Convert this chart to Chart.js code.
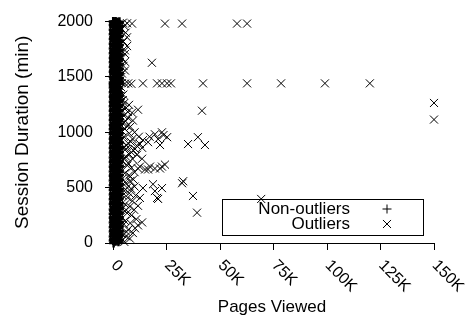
<!DOCTYPE html>
<html><head><meta charset="utf-8">
<script src="https://cdn.jsdelivr.net/npm/chart.js@4/dist/chart.umd.min.js"></script>
<style>html,body{margin:0;padding:0;background:#fff}canvas{display:block}</style>
</head><body>
<canvas id="c" width="474" height="325"></canvas>
<script>
const FONT = '"Liberation Sans", Arial, Helvetica, sans-serif';

const xTickValues = [0, 25000, 50000, 75000, 100000, 125000, 150000];
const xTickLabels = ['0', '25K', '50K', '75K', '100K', '125K', '150K'];
const yTickValues = [0, 500, 1000, 1500, 2000];
const yTickLabels = ['0', '500', '1000', '1500', '2000'];
const seriesNames = ['Non-outliers', 'Outliers'];

// Non-outliers: the dense band near 0 pages viewed (x per column, y values per column)
const bandColumnsX = [0, 200, 650, 1100, 1550, 2000, 2450, 2900];
const bandColumnsY = [
  [22,59,105,142,185,227,265,302,352,395,437,479,522,565,607,645,689,732,772,817,859,902,942,985,1027,1067,1112,1152,1195,1235,1277,1322,1362,1405,1432,1450,1502,1547,1589,1632,1672,1715,1757,1799,1842,1885,1927,1969,2000],
  [0,35,80,118,160,205,240,290,330,372,415,455,500,540,585,620,668,710,750,795,835,878,920,960,1005,1045,1088,1130,1170,1212,1255,1298,1340,1382,1420,1445,1480,1525,1565,1610,1650,1692,1735,1778,1820,1862,1905,1948,1990],
  [20,62,102,145,188,228,270,315,355,398,440,482,525,568,608,650,695,735,778,820,862,905,945,988,1030,1072,1115,1155,1198,1240,1282,1325,1365,1405,1436,1458,1498,1540,1582,1625,1668,1710,1750,1792,1835,1878,1920,1962,1998],
  [15,58,98,140,182,225,265,310,352,395,435,478,520,562,605,645,690,730,772,815,858,900,940,982,1025,1068,1110,1150,1192,1235,1278,1320,1360,1402,1440,1462,1502,1545,1588,1630,1672,1715,1755,1798,1840,1885,1925,1968,2000],
  [30,75,112,155,198,236,282,325,368,410,452,494,535,580,618,662,705,746,790,830,872,915,955,1000,1040,1082,1125,1165,1208,1250,1292,1335,1376,1415,1443,1468,1508,1550,1592,1635,1678,1720,1760,1802,1845,1890,1930,1972,1993],
  [25,70,108,150,195,232,278,320,362,405,448,490,530,575,612,658,700,742,785,825,868,910,950,995,1035,1078,1120,1160,1202,1245,1288,1330,1372,1410,1438,1450,1492,1535,1578,1620,1662,1705,1745,1788,1830,1872,1915,1958,1995],
  [12,52,94,135,176,218,260,302,345,388,430,472,515,556,600,640,682,725,768,810,852,894,935,978,1020,1062,1104,1145,1188,1230,1272,1315,1352,1395,1440,1452,1475,1520,1560,1604,1645,1688,1730,1772,1815,1858,1900,1942,1982],
  [28,68,110,150,192,232,275,318,360,402,445,488,530,572,615,655,698,740,782,825,868,908,950,992,1035,1078,1118,1160,1202,1245,1288,1330,1440,1460,1490,1535,1575,1618,1660,1702,1745,1788,1830,1872,1915,1958,1998]
];

// Outliers
const outlierX = [
  4500,6500,8800,24200,32200,57900,62600,
  5200,4000,5800,6450,4800,6450,5500,5500,4200,5500,18100,4800,5500,4100,3800,
  4000,5500,7000,8500,13900,20500,22800,25200,27000,42000,62600,78500,99000,120000,
  3200,3500,4500,
  7400,11600,8800,41500,9200,6000,5000,7000,150000,150000,
  4500,6500,5500,8000,10000,12000,9000,7000,11000,6000,13500,8500,10200,12500,13900,16300,17000,19500,21000,22800,23500,25200,21900,35000,39600,42900,
  11100,13500,9000,7000,17200,19500,22800,24200,14900,12500,11600,16300,21900,10000,8000,6000,
  8000,13900,18600,19500,22800,20500,21000,32200,32700,37300,39200,69200,12500,11600,6500,7500,9000,6000,8500,11600,10200,13500,5500,7000,6000,4500,
  3500,5200,6800,4000,5800,3600,4200,7500,5000,3800,8200,6200,4600,9500,3400,7600,5200,4100,6600,8600,
  3700,5400,7400,4300,9400,6000,3900,10000,5200,8300,4400,6800,10500,3600,5600,7800,4200,9800,6500,3800,
  10800,5000,8000,3500,6200,9200,4200,7800,5200,3300,4700,3600
];
const outlierY = [
  1990,1985,1982,1982,1982,1982,1982,
  1960,1930,1900,1858,1820,1779,1740,1708,1670,1637,1628,1600,1558,1531,1500,
  1445,1440,1442,1438,1442,1442,1442,1442,1442,1442,1442,1442,1442,1442,
  1390,1330,1290,
  1248,1204,1177,1195,1106,1220,1150,1130,1265,1115,
  1080,1060,1030,1050,1000,960,940,900,880,850,860,820,850,894,929,911,960,982,938,1000,975,956,885,894,956,885,
  797,761,760,720,690,673,690,708,664,690,673,664,673,640,600,780,
  560,496,531,469,496,407,398,540,558,425,274,398,407,336,500,450,380,300,250,159,133,186,200,120,60,30,
  1280,1265,1185,1200,1100,1120,1010,990,960,930,915,880,860,835,820,800,770,740,700,680,
  660,630,610,580,575,540,520,510,470,490,430,410,430,390,350,330,310,300,270,240,
  215,170,180,140,100,90,80,40,10,1180,1340,1410
];

const nonOutlierPoints = bandColumnsY.flatMap((ys, i) => ys.map(y => ({x: bandColumnsX[i], y})));
const outlierPoints = outlierX.map((x, i) => ({x, y: outlierY[i]}));

function drawMarker(ctx, style, x, y, r) {
  ctx.beginPath();
  if (style === 'cross') {
    ctx.moveTo(x - r, y); ctx.lineTo(x + r, y);
    ctx.moveTo(x, y - r); ctx.lineTo(x, y + r);
  } else {
    const d = r * Math.SQRT1_2;
    ctx.moveTo(x - d, y - d); ctx.lineTo(x + d, y + d);
    ctx.moveTo(x + d, y - d); ctx.lineTo(x - d, y + d);
  }
  ctx.stroke();
}

const customPlugin = {
  id: 'custom',
  beforeDatasetsDraw(chart) {
    const ctx = chart.ctx;
    ctx.save();
    ctx.fillStyle = '#fff';
    ctx.fillRect(222.5, 199.5, 201, 36);
    ctx.strokeStyle = '#000';
    ctx.lineWidth = 1;
    ctx.strokeRect(222.5, 199.5, 201, 36);
    ctx.fillStyle = '#000';
    ctx.font = '17px ' + FONT;
    ctx.textAlign = 'right';
    ctx.textBaseline = 'alphabetic';
    const ds = chart.data.datasets;
    const rows = [214, 229];
    const mrows = [209, 224];
    ds.forEach((d, i) => {
      ctx.fillText(d.label, 350, rows[i]);
      ctx.lineWidth = 1;
      drawMarker(ctx, d.pointStyle, 387, mrows[i], d.pointRadius);
    });
    ctx.restore();
  },
  afterDraw(chart) {
    const ctx = chart.ctx;
    const xs = chart.scales.x;
    ctx.save();
    ctx.fillStyle = '#000';
    ctx.font = '16px ' + FONT;
    ctx.textAlign = 'left';
    ctx.textBaseline = 'middle';
    xTickValues.forEach((v, i) => {
      const px = xs.getPixelForValue(v);
      ctx.save();
      ctx.translate(px + 0.5, xs.top + 20);
      ctx.rotate(Math.PI / 4);
      ctx.fillText(xTickLabels[i], 0, 0);
      ctx.restore();
    });
    ctx.restore();
  }
};

new Chart(document.getElementById('c'), {
  type: 'scatter',
  data: {
    datasets: [
      {label: seriesNames[0], data: nonOutlierPoints, pointStyle: 'cross', pointRadius: 4.5, pointHoverRadius: 4.5,
       borderColor: '#000', backgroundColor: '#000', borderWidth: 2.5, clip: false},
      {label: seriesNames[1], data: outlierPoints, pointStyle: 'crossRot', pointRadius: 5.7, pointHoverRadius: 5.7,
       borderColor: '#000', backgroundColor: '#000', borderWidth: 1, clip: false}
    ]
  },
  options: {
    responsive: false,
    animation: false,
    devicePixelRatio: 1,
    layout: {padding: {top: 17, right: 40, left: 0, bottom: 0}},
    plugins: {legend: {display: false}, tooltip: {enabled: false}},
    events: [],
    scales: {
      x: {
        type: 'linear', min: -1500, max: 150000,
        afterBuildTicks: s => { s.ticks = xTickValues.map(v => ({value: v})); },
        ticks: {display: false},
        grid: {display: true, drawOnChartArea: false, drawTicks: true, tickLength: 7, color: '#000', tickColor: '#000', tickWidth: 1},
        border: {display: true, color: '#000', width: 1},
        title: {display: true, text: 'Pages Viewed', color: '#000', font: {size: 17, family: FONT}, padding: {top: 0, bottom: 7.8}},
        afterFit: s => { s.height = 82; }
      },
      y: {
        type: 'linear', min: 0, max: 2000,
        afterBuildTicks: s => { s.ticks = yTickValues.map(v => ({value: v})); },
        ticks: {callback: (v, i) => yTickLabels[i], color: '#000', font: {size: 16, family: FONT}, padding: 12},
        grid: {display: true, drawOnChartArea: false, drawTicks: true, tickLength: 5, color: '#000', tickColor: '#000', tickWidth: 1},
        border: {display: true, color: '#000', width: 1},
        title: {display: true, text: 'Session Duration (min)', color: '#000', font: {size: 19, family: FONT}, padding: {top: 11.6, bottom: 0}},
        afterFit: s => { s.width = 110; }
      }
    }
  },
  plugins: [customPlugin]
});
</script>
</body></html>
